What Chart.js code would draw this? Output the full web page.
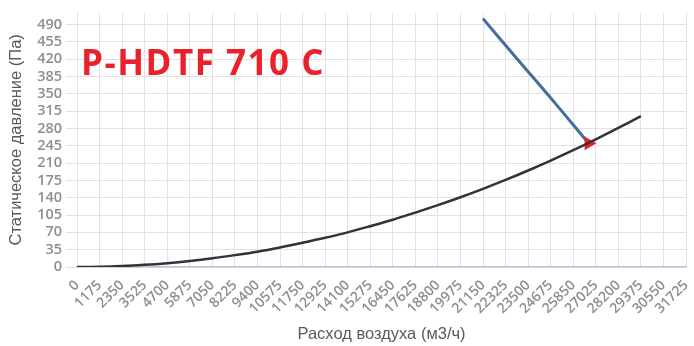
<!DOCTYPE html>
<html>
<head>
<meta charset="utf-8">
<script src="https://cdn.jsdelivr.net/npm/chart.js@4.4.0/dist/chart.umd.min.js"></script>
<style>
  html, body { margin: 0; padding: 0; background: #ffffff; }
  #wrap { width: 694px; height: 346px; position: relative; }
</style>
</head>
<body>
<div id="wrap"><canvas id="c" width="694" height="346"></canvas></div>
<script>
// X tick labels (air flow, m3/h)
const flowTicks = [0, 1175, 2350, 3525, 4700, 5875, 7050, 8225, 9400, 10575, 11750, 12925, 14100, 15275, 16450, 17625, 18800, 19975, 21150, 22325, 23500, 24675, 25850, 27025, 28200, 29375, 30550, 31725];
// System curve (static pressure, Pa) at flowTicks[0..25]
const systemPressure = [0, 0.5, 2, 4.4, 7.8, 12.2, 17.6, 24, 31, 39.5, 49, 59, 70, 82.5, 95.5, 110, 125, 141, 158, 176, 195, 215, 236, 258, 281, 305];
// Fan curve points
const fanFlow = [21150, 22500, 23900, 25300, 26650];
const fanPressure = [502, 440, 377, 313, 250];
// Y ticks
const yStep = 35;
const yMax = 514;

const systemData = systemPressure.map((v, i) => ({ x: flowTicks[i], y: v }));
const fanData = fanFlow.map((x, i) => ({ x: x, y: fanPressure[i] }));

const titlePlugin = {
  id: 'modelTitle',
  afterDraw(chart) {
    const ctx = chart.ctx;
    ctx.save();
    ctx.font = 'bold 35px "Open Sans", sans-serif';
    if ('letterSpacing' in ctx) ctx.letterSpacing = '1.5px';
    ctx.fillStyle = '#e8212b';
    ctx.textBaseline = 'alphabetic';
    ctx.fillText('P-HDTF 710 C', 81, 75);
    ctx.restore();
  }
};

new Chart(document.getElementById('c'), {
  type: 'line',
  data: {
    datasets: [
      {
        data: systemData,
        borderColor: '#333333',
        borderWidth: 2.5,
        pointRadius: 0,
        tension: 0.3,
        fill: false
      },
      {
        data: fanData,
        borderColor: '#426f9c',
        borderWidth: 3,
        tension: 0.3,
        fill: false,
        pointRadius: fanData.map((d, i) => i === fanData.length - 1 ? 5 : 0),
        pointStyle: 'triangle',
        rotation: 90,
        pointBackgroundColor: '#e8212b',
        pointBorderColor: '#e8212b'
      }
    ]
  },
  options: {
    responsive: false,
    animation: false,
    plugins: { legend: { display: false }, tooltip: { enabled: false } },
    layout: { padding: { top: 12, right: 6, left: 0, bottom: 0 } },
    scales: {
      x: {
        type: 'linear',
        min: 0,
        max: 31725,
        afterBuildTicks(scale) { scale.ticks = flowTicks.map(v => ({ value: v })); },
        afterFit(scale) { scale.height = 79; scale.paddingLeft = 0; scale.paddingRight = 0; },
        grid: { color: '#e6e0e0', tickLength: 0, drawTicks: false },
        border: { color: '#b4c6e0', width: 1.5 },
        ticks: {
          autoSkip: false,
          maxRotation: 45,
          minRotation: 45,
          padding: 10,
          color: '#8e8e8e',
          font: { family: '"Open Sans", sans-serif', size: 14, weight: '600' },
          callback: (v) => String(v)
        },
        title: {
          display: true,
          text: 'Расход воздуха (м3/ч)',
          color: '#5a5a5a',
          font: { family: '"Liberation Sans", Arial, sans-serif', size: 16.5 },
          padding: { top: 4, bottom: 2 }
        }
      },
      y: {
        min: 0,
        max: yMax,
        afterFit(scale) { scale.width = 77; },
        grid: { color: '#e6e0e0', tickLength: 11 },
        border: { color: '#e6e0e0' },
        ticks: {
          autoSkip: false,
          stepSize: yStep,
          includeBounds: false,
          padding: 4,
          color: '#8e8e8e',
          font: { family: '"Open Sans", sans-serif', size: 14.5, weight: '600' }
        },
        title: {
          display: true,
          text: 'Статическое давление (Па)',
          color: '#5a5a5a',
          font: { family: '"Liberation Sans", Arial, sans-serif', size: 16.5 },
          padding: { top: 7, bottom: 2 }
        }
      }
    }
  },
  plugins: [titlePlugin]
});
</script>
</body>
</html>
